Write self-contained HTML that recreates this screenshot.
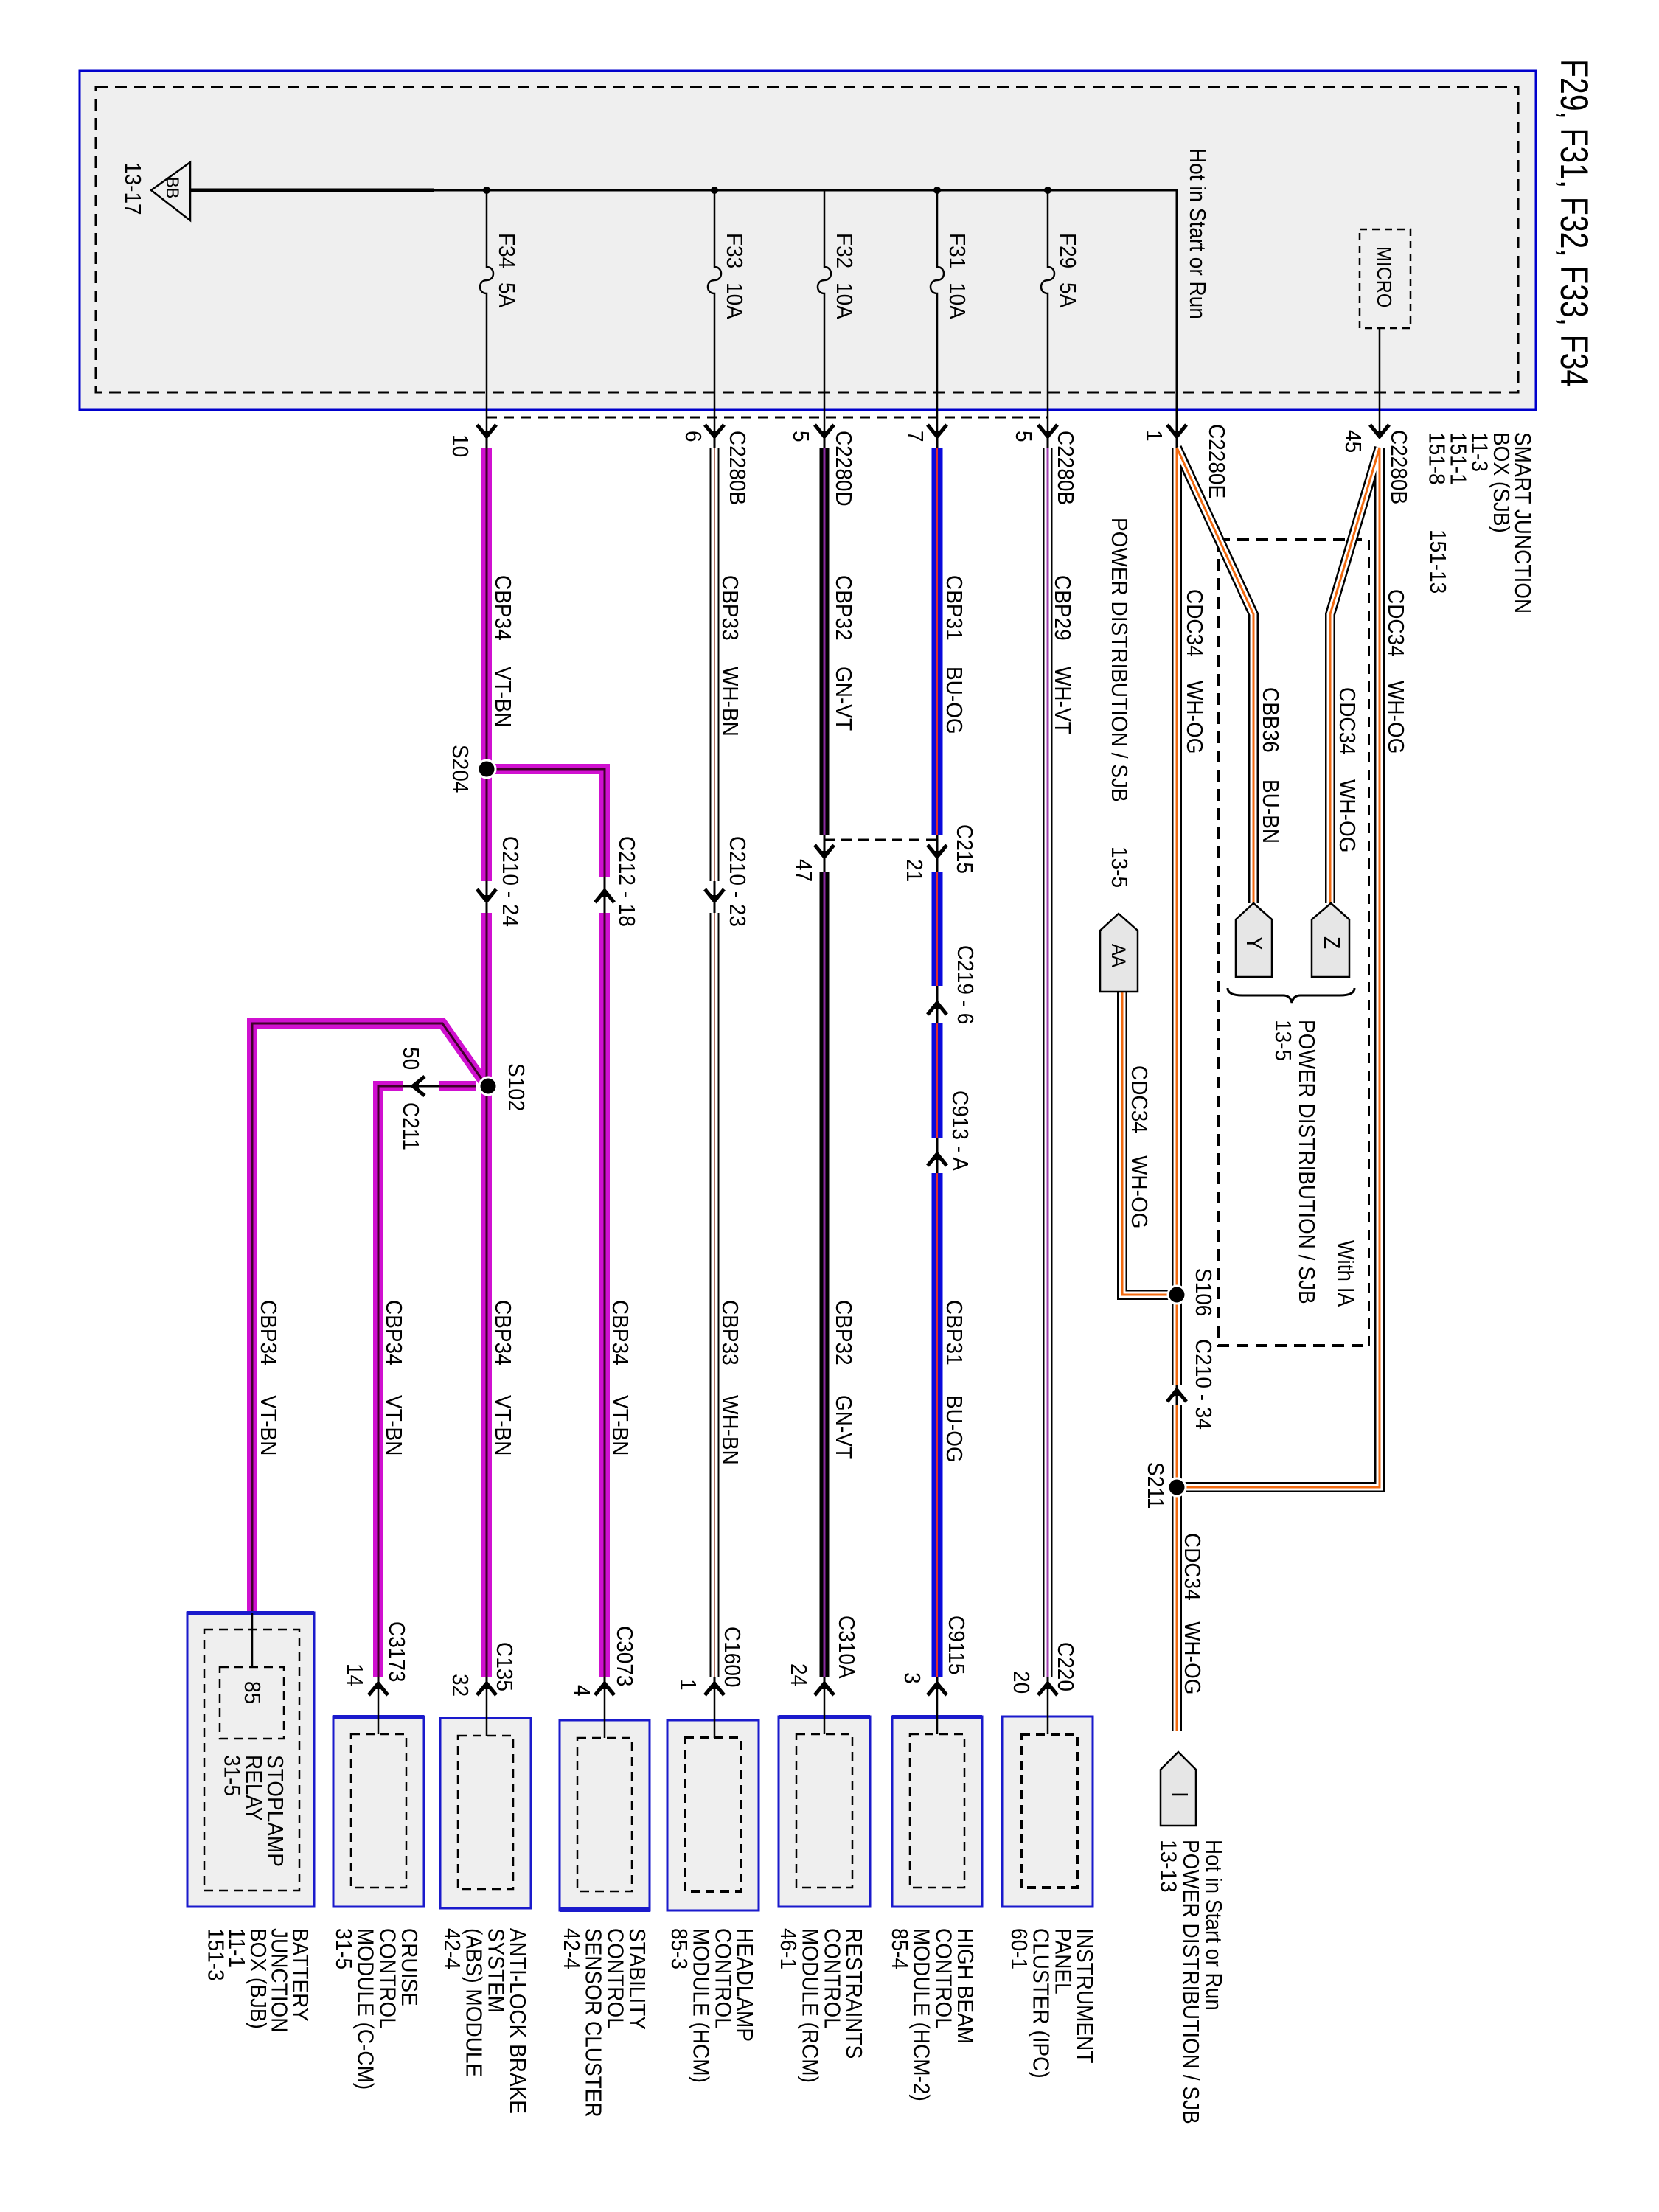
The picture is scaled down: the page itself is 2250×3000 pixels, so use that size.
<!DOCTYPE html>
<html><head><meta charset="utf-8"><style>
html,body{margin:0;padding:0;background:#fff}
svg{display:block}
text{font-family:"Liberation Sans",Arial,sans-serif;font-size:28px;fill:#000}
</style></head><body>
<svg width="2250" height="3000" viewBox="0 0 2250 3000" xmlns="http://www.w3.org/2000/svg">
<defs>
<g id="ad"><path d="M-13 -16 L0 0 L13 -16" stroke="#000" stroke-width="5" fill="none"/><path d="M-6 -8 L0 4 L6 -8Z" fill="#000"/></g>
<g id="au"><path d="M-13 16 L0 0 L13 16" stroke="#000" stroke-width="5" fill="none"/><path d="M-6 8 L0 -4 L6 8Z" fill="#000"/></g>
<g id="al"><path d="M16 -13 L0 0 L16 13" stroke="#000" stroke-width="5" fill="none"/><path d="M8 -6 L-4 0 L8 6Z" fill="#000"/></g>
</defs>

<!-- Title -->
<text transform="translate(2117,80) rotate(90) scale(1,1.3)" style="font-size:41px">F29, F31, F32, F33, F34</text>

<!-- SJB box -->
<rect x="108" y="96" width="1975" height="460" fill="#efefef" stroke="#0000cc" stroke-width="3"/>
<rect x="130" y="118" width="1929" height="414" fill="none" stroke="#000" stroke-width="3" stroke-dasharray="16 10"/>

<!-- BB -->
<path d="M258 220 L258 299 L205 258 Z" fill="#efefef" stroke="#000" stroke-width="2.5"/>
<text transform="translate(226,240) rotate(90) scale(1,1.1)" style="font-size:22px">BB</text>
<text transform="translate(170,220) rotate(90) scale(1,1.1)">13-17</text>

<!-- bus -->
<path d="M258 258 H1596 V590" stroke="#000" stroke-width="3" fill="none"/>
<path d="M258 258 H588" stroke="#000" stroke-width="5" fill="none"/>
<g fill="#000"><circle cx="660" cy="258" r="5"/><circle cx="969" cy="258" r="5"/><circle cx="1271" cy="258" r="5"/><circle cx="1421" cy="258" r="5"/></g>
<g stroke="#000" stroke-width="2.5" fill="none">
<path d="M660 258 V362 c12 0 12 18 0 18 c-12 0 -12 18 0 18 V590"/>
<path d="M969 258 V362 c12 0 12 18 0 18 c-12 0 -12 18 0 18 V590"/>
<path d="M1118 258 V362 c12 0 12 18 0 18 c-12 0 -12 18 0 18 V590"/>
<path d="M1271 258 V362 c12 0 12 18 0 18 c-12 0 -12 18 0 18 V590"/>
<path d="M1421 258 V362 c12 0 12 18 0 18 c-12 0 -12 18 0 18 V590"/>
<path d="M1871 445 V590"/>
</g>
<text transform="translate(677,316) rotate(90) scale(1,1.1)">F34</text><text transform="translate(677,383) rotate(90) scale(1,1.1)">5A</text>
<text transform="translate(986,316) rotate(90) scale(1,1.1)">F33</text><text transform="translate(986,383) rotate(90) scale(1,1.1)">10A</text>
<text transform="translate(1135,316) rotate(90) scale(1,1.1)">F32</text><text transform="translate(1135,383) rotate(90) scale(1,1.1)">10A</text>
<text transform="translate(1288,316) rotate(90) scale(1,1.1)">F31</text><text transform="translate(1288,383) rotate(90) scale(1,1.1)">10A</text>
<text transform="translate(1438,316) rotate(90) scale(1,1.1)">F29</text><text transform="translate(1438,383) rotate(90) scale(1,1.1)">5A</text>
<text transform="translate(1614,201) rotate(90) scale(1,1.1)">Hot in Start or Run</text>
<rect x="1844" y="311" width="69" height="134" fill="none" stroke="#000" stroke-width="2.5" stroke-dasharray="10 7"/>
<text transform="translate(1868,334) rotate(90) scale(1,1.1)" style="font-size:25px">MICRO</text>

<!-- dashed between connectors -->
<path d="M660 566 H1421" stroke="#000" stroke-width="3" stroke-dasharray="14 9" fill="none"/>

<!-- top arrows -->
<use href="#ad" x="660" y="592"/><use href="#ad" x="969" y="592"/><use href="#ad" x="1118" y="592"/><use href="#ad" x="1271" y="592"/><use href="#ad" x="1421" y="592"/><use href="#ad" x="1596" y="592"/><use href="#ad" x="1871" y="592"/>

<!-- connector labels top -->
<text transform="translate(1887,583) rotate(90) scale(1,1.1)">C2280B</text>
<text transform="translate(1825,583) rotate(90) scale(1,1.1)">45</text>
<text transform="translate(1640,575) rotate(90) scale(1,1.1)">C2280E</text>
<text transform="translate(1555,583) rotate(90) scale(1,1.1)">1</text>
<text transform="translate(1435,584) rotate(90) scale(1,1.1)">C2280B</text>
<text transform="translate(1378,584) rotate(90) scale(1,1.1)">5</text>
<text transform="translate(1231,584) rotate(90) scale(1,1.1)">7</text>
<text transform="translate(1134,584) rotate(90) scale(1,1.1)">C2280D</text>
<text transform="translate(1076,584) rotate(90) scale(1,1.1)">5</text>
<text transform="translate(990,584) rotate(90) scale(1,1.1)">C2280B</text>
<text transform="translate(930,584) rotate(90) scale(1,1.1)">6</text>
<text transform="translate(614,589) rotate(90) scale(1,1.1)">10</text>
<text transform="translate(2055,586) rotate(90) scale(1,1.1)"><tspan x="0" dy="0">SMART JUNCTION</tspan><tspan x="0" dy="26.5">BOX (SJB)</tspan><tspan x="0" dy="26.5">11-3</tspan><tspan x="0" dy="26.5">151-1</tspan><tspan x="0" dy="26.5">151-8</tspan></text>
<text transform="translate(1940,718) rotate(90) scale(1,1.1)">151-13</text>

<!-- With IA dashed box -->
<path d="M1652 732 H1847" stroke="#000" stroke-width="4" stroke-dasharray="16 10" fill="none"/>
<path d="M1652 732 V1825 H1858" stroke="#000" stroke-width="4" stroke-dasharray="16 10" fill="none"/>
<path d="M1857 732 V1825" stroke="#000" stroke-width="2" stroke-dasharray="14 10" fill="none"/>

<!-- thin black base lines through gaps -->
<g stroke="#000" stroke-width="3" fill="none">
<path d="M1271 592 V2283"/><path d="M1118 592 V2283"/><path d="M969 592 V2283"/><path d="M660 592 V2283"/><path d="M820 1043 V2283"/><path d="M1421 592 V2283"/><path d="M1596 592 V2347"/><path d="M595 1473 H545"/><path d="M513 1473 V2283"/>
</g>

<!-- WH-OG cables -->
<g fill="none" stroke-linejoin="miter">
<g stroke="#000" stroke-width="14">
<path d="M1871 607 V2017 H1596"/><path d="M1871 607 L1804 833 V1225"/><path d="M1596 607 L1700 833 V1225"/><path d="M1596 607 V1878"/><path d="M1596 1905 V2347"/><path d="M1522 1345 V1756 H1596"/>
</g>
<g stroke="#fff" stroke-width="9">
<path d="M1871 607 V2017 H1596"/><path d="M1871 607 L1804 833 V1225"/><path d="M1596 607 L1700 833 V1225"/><path d="M1596 607 V1878"/><path d="M1596 1905 V2347"/><path d="M1522 1345 V1756 H1596"/>
</g>
<g stroke="#f26a10" stroke-width="3">
<path d="M1871 607 V2017 H1596"/><path d="M1871 607 L1804 833 V1225"/><path d="M1596 607 L1700 833 V1225"/><path d="M1596 607 V1878"/><path d="M1596 1905 V2347"/><path d="M1522 1345 V1756 H1596"/>
</g>

<!-- WH-VT -->
<path d="M1421 607 V2275" stroke="#000" stroke-width="13"/>
<path d="M1421 607 V2275" stroke="#fff" stroke-width="9"/>
<path d="M1421 607 V2275" stroke="#a040b0" stroke-width="3"/>
<!-- BU-OG -->
<g stroke="#0a0adc" stroke-width="15"><path d="M1271 607 V1132"/><path d="M1271 1183 V1337"/><path d="M1271 1388 V1543"/><path d="M1271 1591 V2275"/></g>
<g stroke="#e03030" stroke-width="2"><path d="M1271 607 V1132"/><path d="M1271 1183 V1337"/><path d="M1271 1388 V1543"/><path d="M1271 1591 V2275"/></g>
<!-- GN-VT -->
<g stroke="#000" stroke-width="13"><path d="M1118 607 V1132"/><path d="M1118 1183 V2275"/></g>
<g stroke="#8a2aa0" stroke-width="3"><path d="M1118 607 V1132"/><path d="M1118 1183 V2275"/></g>
<!-- WH-BN -->
<g stroke="#000" stroke-width="13"><path d="M969 607 V1195"/><path d="M969 1238 V2275"/></g>
<g stroke="#fff" stroke-width="9"><path d="M969 607 V1195"/><path d="M969 1238 V2275"/></g>
<g stroke="#b07060" stroke-width="2"><path d="M969 607 V1195"/><path d="M969 1238 V2275"/></g>
<!-- VT-BN -->
<g stroke="#d010d0" stroke-width="14">
<path d="M660 607 V1195"/><path d="M660 1238 V2275"/><path d="M660 1043 H820 V1190"/><path d="M820 1238 V2275"/><path d="M660 1473 L600 1388 H342 V2187"/><path d="M645 1473 H595"/><path d="M547 1473 H513 V2275"/>
</g>
<g stroke="#40002a" stroke-width="3">
<path d="M660 607 V1195"/><path d="M660 1238 V2275"/><path d="M660 1043 H820 V1190"/><path d="M820 1238 V2275"/><path d="M660 1473 L600 1388 H342 V2187"/><path d="M645 1473 H595"/><path d="M547 1473 H513 V2275"/>
</g>
</g>

<!-- dashed C215 -->
<path d="M1118 1139 H1271" stroke="#000" stroke-width="3" stroke-dasharray="14 9" fill="none"/>

<!-- mid arrows -->
<use href="#ad" x="1271" y="1162"/><use href="#ad" x="1118" y="1162"/><use href="#ad" x="969" y="1222"/><use href="#ad" x="660" y="1222"/>
<use href="#au" x="820" y="1208"/><use href="#au" x="1271" y="1360"/><use href="#au" x="1271" y="1565"/><use href="#au" x="1596" y="1885"/>
<use href="#al" x="560" y="1473"/>

<!-- splices -->
<g fill="#000" stroke="#fff" stroke-width="3">
<circle cx="660" cy="1043" r="12"/><circle cx="662" cy="1473" r="12"/><circle cx="1596" cy="1756" r="12"/><circle cx="1596" cy="2017" r="12"/>
</g>

<!-- connectors Y Z AA I -->
<g fill="#e6e6e6" stroke="#000" stroke-width="2.5">
<path d="M1805 1225 L1830 1247 V1325 H1779 V1247 Z"/>
<path d="M1700 1225 L1725 1247 V1325 H1676 V1247 Z"/>
<path d="M1517 1239 L1543 1262 V1345 H1492 V1262 Z"/>
<path d="M1598 2376 L1622 2400 V2476 H1574 V2400 Z"/>
</g>
<text transform="translate(1796,1270) rotate(90) scale(1,1.1)">Z</text>
<text transform="translate(1691,1270) rotate(90) scale(1,1.1)">Y</text>
<text transform="translate(1508,1280) rotate(90) scale(1,1.1)" style="font-size:24px">AA</text>
<text transform="translate(1590,2430) rotate(90) scale(1,1.1)">I</text>
<!-- brace -->
<path d="M1665 1340 q0 10 20 10 h55 q10 0 12 10 q2 -10 12 -10 h53 q20 0 20 -10" stroke="#000" stroke-width="3" fill="none"/>

<!-- wire labels -->
<text transform="translate(1883,799) rotate(90) scale(1,1.1)">CDC34</text><text transform="translate(1883,923) rotate(90) scale(1,1.1)">WH-OG</text>
<text transform="translate(1610,799) rotate(90) scale(1,1.1)">CDC34</text><text transform="translate(1610,923) rotate(90) scale(1,1.1)">WH-OG</text>
<text transform="translate(1713,932) rotate(90) scale(1,1.1)">CBB36</text><text transform="translate(1713,1057) rotate(90) scale(1,1.1)">BU-BN</text>
<text transform="translate(1817,932) rotate(90) scale(1,1.1)">CDC34</text><text transform="translate(1817,1057) rotate(90) scale(1,1.1)">WH-OG</text>
<text transform="translate(1508,702) rotate(90) scale(1,1.1)">POWER DISTRIBUTION / SJB</text>
<text transform="translate(1508,1148) rotate(90) scale(1,1.1)">13-5</text>
<text transform="translate(1431,780) rotate(90) scale(1,1.1)">CBP29</text><text transform="translate(1431,904) rotate(90) scale(1,1.1)">WH-VT</text>
<text transform="translate(1284,780) rotate(90) scale(1,1.1)">CBP31</text><text transform="translate(1284,904) rotate(90) scale(1,1.1)">BU-OG</text>
<text transform="translate(1134,780) rotate(90) scale(1,1.1)">CBP32</text><text transform="translate(1134,904) rotate(90) scale(1,1.1)">GN-VT</text>
<text transform="translate(980,780) rotate(90) scale(1,1.1)">CBP33</text><text transform="translate(980,904) rotate(90) scale(1,1.1)">WH-BN</text>
<text transform="translate(672,780) rotate(90) scale(1,1.1)">CBP34</text><text transform="translate(672,904) rotate(90) scale(1,1.1)">VT-BN</text>
<text transform="translate(614,1010) rotate(90) scale(1,1.1)">S204</text>
<text transform="translate(1298,1118) rotate(90) scale(1,1.1)">C215</text>
<text transform="translate(1230,1165) rotate(90) scale(1,1.1)">21</text>
<text transform="translate(1080,1165) rotate(90) scale(1,1.1)">47</text>
<text transform="translate(990,1134) rotate(90) scale(1,1.1)">C210 -  23</text>
<text transform="translate(840,1134) rotate(90) scale(1,1.1)">C212 -  18</text>
<text transform="translate(682,1134) rotate(90) scale(1,1.1)">C210 -  24</text>
<text transform="translate(1299,1282) rotate(90) scale(1,1.1)">C219 -  6</text>
<text transform="translate(1292,1479) rotate(90) scale(1,1.1)">C913 -  A</text>
<text transform="translate(690,1442) rotate(90) scale(1,1.1)">S102</text>
<text transform="translate(547,1420) rotate(90) scale(1,1.1)">50</text>
<text transform="translate(547,1495) rotate(90) scale(1,1.1)">C211</text>
<text transform="translate(1762,1383) rotate(90) scale(1,1.1)">POWER DISTRIBUTION / SJB</text>
<text transform="translate(1730,1383) rotate(90) scale(1,1.1)">13-5</text>
<text transform="translate(1815,1682) rotate(90) scale(1,1.1)">With IA</text>
<text transform="translate(1535,1445) rotate(90) scale(1,1.1)">CDC34</text><text transform="translate(1535,1567) rotate(90) scale(1,1.1)">WH-OG</text>
<text transform="translate(1622,1720) rotate(90) scale(1,1.1)">S106</text>
<text transform="translate(1622,1816) rotate(90) scale(1,1.1)">C210  -  34</text>
<text transform="translate(1557,1983) rotate(90) scale(1,1.1)">S211</text>
<text transform="translate(1607,2079) rotate(90) scale(1,1.1)">CDC34</text><text transform="translate(1607,2199) rotate(90) scale(1,1.1)">WH-OG</text>
<text transform="translate(1284,1763) rotate(90) scale(1,1.1)">CBP31</text><text transform="translate(1284,1892) rotate(90) scale(1,1.1)">BU-OG</text>
<text transform="translate(1134,1763) rotate(90) scale(1,1.1)">CBP32</text><text transform="translate(1134,1892) rotate(90) scale(1,1.1)">GN-VT</text>
<text transform="translate(980,1763) rotate(90) scale(1,1.1)">CBP33</text><text transform="translate(980,1892) rotate(90) scale(1,1.1)">WH-BN</text>
<text transform="translate(831,1763) rotate(90) scale(1,1.1)">CBP34</text><text transform="translate(831,1892) rotate(90) scale(1,1.1)">VT-BN</text>
<text transform="translate(672,1763) rotate(90) scale(1,1.1)">CBP34</text><text transform="translate(672,1892) rotate(90) scale(1,1.1)">VT-BN</text>
<text transform="translate(524,1763) rotate(90) scale(1,1.1)">CBP34</text><text transform="translate(524,1892) rotate(90) scale(1,1.1)">VT-BN</text>
<text transform="translate(354,1763) rotate(90) scale(1,1.1)">CBP34</text><text transform="translate(354,1892) rotate(90) scale(1,1.1)">VT-BN</text>
<text transform="translate(1636,2495) rotate(90) scale(1,1.1)"><tspan x="0" dy="0">Hot in Start or Run</tspan><tspan x="0" dy="28">POWER DISTRIBUTION / SJB</tspan><tspan x="0" dy="28">13-13</tspan></text>

<!-- modules -->
<g fill="#efefef" stroke="#1a1acc" stroke-width="3">
<rect x="1359" y="2328" width="123" height="258"/>
<rect x="1210" y="2328" width="122" height="258"/>
<rect x="1056" y="2328" width="124" height="258"/>
<rect x="905" y="2333" width="124" height="258"/>
<rect x="759" y="2333" width="122" height="258"/>
<rect x="597" y="2330" width="123" height="258"/>
<rect x="452" y="2328" width="123" height="258"/>
<rect x="254" y="2187" width="172" height="399"/>
</g>
<g stroke="#1a1acc" stroke-width="6">
<path d="M1210 2329 H1332"/><path d="M1056 2329 H1180"/><path d="M452 2329 H575"/><path d="M254 2188 H426"/><path d="M759 2590 H881"/>
</g>
<g fill="none" stroke="#000" stroke-width="2.5" stroke-dasharray="12 8">
<rect x="1385" y="2352" width="76" height="208" stroke-width="4"/>
<rect x="1234" y="2352" width="74" height="208"/>
<rect x="1080" y="2352" width="76" height="208"/>
<rect x="929" y="2357" width="76" height="208" stroke-width="4"/>
<rect x="783" y="2357" width="74" height="208"/>
<rect x="621" y="2354" width="75" height="208"/>
<rect x="476" y="2352" width="75" height="208"/>
<rect x="277" y="2210" width="129" height="354"/>
<rect x="298" y="2261" width="87" height="97"/>
</g>
<g stroke="#000" stroke-width="2.5">
<path d="M1421 2283 V2352"/><path d="M1271 2283 V2352"/><path d="M1118 2283 V2352"/><path d="M969 2283 V2357"/><path d="M820 2283 V2357"/><path d="M660 2283 V2354"/><path d="M513 2283 V2352"/><path d="M342 2187 V2261"/>
</g>
<use href="#au" x="1421" y="2283"/><use href="#au" x="1271" y="2283"/><use href="#au" x="1118" y="2283"/><use href="#au" x="969" y="2283"/><use href="#au" x="820" y="2283"/><use href="#au" x="660" y="2283"/><use href="#au" x="513" y="2283"/>
<text transform="translate(332,2280) rotate(90) scale(1,1.1)">85</text>
<text transform="translate(363,2380) rotate(90) scale(1,1.1)"><tspan x="0" dy="0">STOPLAMP</tspan><tspan x="0" dy="26.5">RELAY</tspan><tspan x="0" dy="26.5">31-5</tspan></text>

<text transform="translate(1435,2227) rotate(90) scale(1,1.1)">C220</text><text transform="translate(1375,2266) rotate(90) scale(1,1.1)">20</text>
<text transform="translate(1287,2191) rotate(90) scale(1,1.1)">C9115</text><text transform="translate(1227,2268) rotate(90) scale(1,1.1)">3</text>
<text transform="translate(1138,2191) rotate(90) scale(1,1.1)">C310A</text><text transform="translate(1073,2256) rotate(90) scale(1,1.1)">24</text>
<text transform="translate(983,2206) rotate(90) scale(1,1.1)">C1600</text><text transform="translate(923,2277) rotate(90) scale(1,1.1)">1</text>
<text transform="translate(837,2205) rotate(90) scale(1,1.1)">C3073</text><text transform="translate(779,2285) rotate(90) scale(1,1.1)">4</text>
<text transform="translate(674,2227) rotate(90) scale(1,1.1)">C135</text><text transform="translate(614,2270) rotate(90) scale(1,1.1)">32</text>
<text transform="translate(528,2199) rotate(90) scale(1,1.1)">C3173</text><text transform="translate(471,2256) rotate(90) scale(1,1.1)">14</text>

<!-- module names -->
<text transform="translate(1461,2615) rotate(90) scale(1,1.1)"><tspan x="0" dy="0">INSTRUMENT</tspan><tspan x="0" dy="27">PANEL</tspan><tspan x="0" dy="27">CLUSTER (IPC)</tspan><tspan x="0" dy="27">60-1</tspan></text>
<text transform="translate(1299,2615) rotate(90) scale(1,1.1)"><tspan x="0" dy="0">HIGH BEAM</tspan><tspan x="0" dy="27">CONTROL</tspan><tspan x="0" dy="27">MODULE (HCM-2)</tspan><tspan x="0" dy="27">85-4</tspan></text>
<text transform="translate(1148,2615) rotate(90) scale(1,1.1)"><tspan x="0" dy="0">RESTRAINTS</tspan><tspan x="0" dy="27">CONTROL</tspan><tspan x="0" dy="27">MODULE (RCM)</tspan><tspan x="0" dy="27">46-1</tspan></text>
<text transform="translate(1000,2615) rotate(90) scale(1,1.1)"><tspan x="0" dy="0">HEADLAMP</tspan><tspan x="0" dy="27">CONTROL</tspan><tspan x="0" dy="27">MODULE (HCM)</tspan><tspan x="0" dy="27">85-3</tspan></text>
<text transform="translate(854,2615) rotate(90) scale(1,1.1)"><tspan x="0" dy="0">STABILITY</tspan><tspan x="0" dy="27">CONTROL</tspan><tspan x="0" dy="27">SENSOR CLUSTER</tspan><tspan x="0" dy="27">42-4</tspan></text>
<text transform="translate(692,2615) rotate(90) scale(1,1.1)"><tspan x="0" dy="0">ANTI-LOCK BRAKE</tspan><tspan x="0" dy="27">SYSTEM</tspan><tspan x="0" dy="27">(ABS) MODULE</tspan><tspan x="0" dy="27">42-4</tspan></text>
<text transform="translate(545,2615) rotate(90) scale(1,1.1)"><tspan x="0" dy="0">CRUISE</tspan><tspan x="0" dy="27">CONTROL</tspan><tspan x="0" dy="27">MODULE (C-CM)</tspan><tspan x="0" dy="27">31-5</tspan></text>
<text transform="translate(397,2615) rotate(90) scale(1,1.1)"><tspan x="0" dy="0">BATTERY</tspan><tspan x="0" dy="26">JUNCTION</tspan><tspan x="0" dy="26">BOX (BJB)</tspan><tspan x="0" dy="26">11-1</tspan><tspan x="0" dy="26">151-3</tspan></text>
</svg>
</body></html>
